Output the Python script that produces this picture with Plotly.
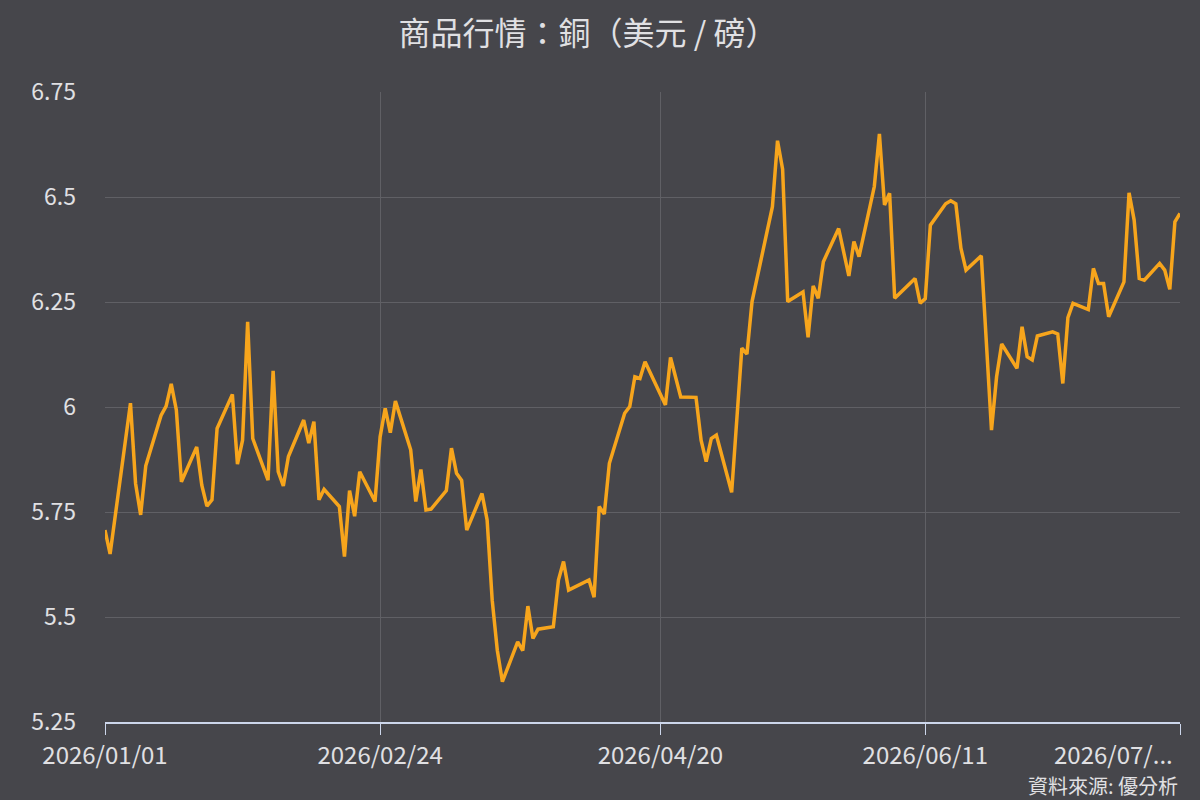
import plotly.graph_objects as go

dates = [
    "2026-01-01", "2026-01-02", "2026-01-06", "2026-01-07", "2026-01-08", "2026-01-09",
    "2026-01-12", "2026-01-13", "2026-01-14", "2026-01-15", "2026-01-16",
    "2026-01-19", "2026-01-20", "2026-01-21", "2026-01-22", "2026-01-23",
    "2026-01-26", "2026-01-27", "2026-01-28", "2026-01-29", "2026-01-30",
    "2026-02-02", "2026-02-03", "2026-02-04", "2026-02-05", "2026-02-06",
    "2026-02-09", "2026-02-10", "2026-02-11", "2026-02-12", "2026-02-13",
    "2026-02-16", "2026-02-17", "2026-02-18", "2026-02-19", "2026-02-20",
    "2026-02-23", "2026-02-24", "2026-02-25", "2026-02-26", "2026-02-27",
    "2026-03-02", "2026-03-03", "2026-03-04", "2026-03-05", "2026-03-06",
    "2026-03-09", "2026-03-10", "2026-03-11", "2026-03-12", "2026-03-13",
    "2026-03-16", "2026-03-17", "2026-03-18", "2026-03-19", "2026-03-20",
    "2026-03-23", "2026-03-24", "2026-03-25", "2026-03-26", "2026-03-27",
    "2026-03-30", "2026-03-31", "2026-04-01", "2026-04-02",
    "2026-04-06", "2026-04-07", "2026-04-08", "2026-04-09", "2026-04-10",
    "2026-04-13", "2026-04-14", "2026-04-15", "2026-04-16", "2026-04-17",
    "2026-04-20", "2026-04-21", "2026-04-22", "2026-04-24",
    "2026-04-27", "2026-04-28", "2026-04-29", "2026-04-30", "2026-05-01",
    "2026-05-04", "2026-05-06", "2026-05-07", "2026-05-08",
    "2026-05-12", "2026-05-13", "2026-05-14", "2026-05-15",
    "2026-05-18", "2026-05-19", "2026-05-20", "2026-05-21", "2026-05-22",
    "2026-05-25", "2026-05-27", "2026-05-28", "2026-05-29",
    "2026-06-01", "2026-06-02", "2026-06-03", "2026-06-04", "2026-06-05",
    "2026-06-09", "2026-06-10", "2026-06-11", "2026-06-12",
    "2026-06-15", "2026-06-16", "2026-06-17", "2026-06-18", "2026-06-19",
    "2026-06-22", "2026-06-24", "2026-06-25", "2026-06-26",
    "2026-06-29", "2026-06-30", "2026-07-01", "2026-07-02", "2026-07-03",
    "2026-07-06", "2026-07-07", "2026-07-08", "2026-07-09", "2026-07-10",
    "2026-07-13", "2026-07-14", "2026-07-15", "2026-07-16", "2026-07-17",
    "2026-07-20", "2026-07-21", "2026-07-22", "2026-07-23", "2026-07-24",
    "2026-07-27", "2026-07-28", "2026-07-29", "2026-07-30", "2026-07-31",
]

copper_price = [
    5.707, 5.650, 6.009, 5.818, 5.743, 5.860,
    5.980, 6.002, 6.055, 5.993, 5.822,
    5.905, 5.814, 5.764, 5.779, 5.949,
    6.030, 5.864, 5.921, 6.203, 5.925,
    5.826, 6.086, 5.846, 5.812, 5.882,
    5.969, 5.914, 5.965, 5.779, 5.804,
    5.763, 5.644, 5.801, 5.740, 5.846,
    5.775, 5.929, 5.997, 5.939, 6.014,
    5.898, 5.775, 5.851, 5.755, 5.757,
    5.801, 5.902, 5.842, 5.825, 5.707,
    5.794, 5.731, 5.540, 5.421, 5.346,
    5.441, 5.420, 5.526, 5.449, 5.471,
    5.477, 5.588, 5.632, 5.564,
    5.588, 5.547, 5.763, 5.745, 5.866,
    5.985, 6.001, 6.072, 6.068, 6.108,
    6.030, 6.005, 6.118, 6.024,
    6.023, 5.921, 5.870, 5.925, 5.933,
    5.797, 6.140, 6.126, 6.251,
    6.477, 6.634, 6.566, 6.251,
    6.274, 6.166, 6.288, 6.259, 6.346,
    6.425, 6.312, 6.394, 6.358,
    6.525, 6.650, 6.481, 6.509, 6.259,
    6.306, 6.247, 6.258, 6.433,
    6.484, 6.491, 6.484, 6.378, 6.326,
    6.360, 5.945, 6.072, 6.150,
    6.092, 6.191, 6.120, 6.112, 6.169,
    6.179, 6.174, 6.056, 6.213, 6.247,
    6.232, 6.330, 6.294, 6.294, 6.215,
    6.298, 6.510, 6.445, 6.306, 6.302,
    6.342, 6.326, 6.280, 6.441, 6.461,
]

x_tick_vals = ["2026-01-01", "2026-02-24", "2026-04-20", "2026-06-11", "2026-07-31"]
x_tick_text = ["2026/01/01", "2026/02/24", "2026/04/20", "2026/06/11", ""]
last_tick_label = "2026/07/..."
y_tick_vals = [5.25, 5.5, 5.75, 6.0, 6.25, 6.5, 6.75]
y_tick_text = ["5.25", "5.5", "5.75", "6", "6.25", "6.5", "6.75"]

title_text = "商品行情：銅（美元 / 磅）"
source_text = "資料來源: 優分析"

BG = "#46464b"
GRID = "#606065"
AXIS = "#ccd6eb"
TEXT = "#e0e0e3"
LINE = "#f7a51c"
FONT = "Noto Sans CJK TC, Noto Sans, sans-serif"

fig = go.Figure()
fig.add_trace(go.Scatter(
    x=dates, y=copper_price, mode="lines",
    line=dict(color=LINE, width=3.5),
    showlegend=False, hoverinfo="x+y",
))

fig.update_layout(
    width=1200, height=800,
    paper_bgcolor=BG, plot_bgcolor=BG,
    margin=dict(l=105, r=20, t=92, b=78),
    font=dict(family=FONT, color=TEXT),
    title=dict(
        text=title_text, x=0.49, xanchor="center",
        y=1 - 34 / 800, yanchor="middle", yref="container",
        font=dict(size=32, color=TEXT, family=FONT),
    ),
    xaxis=dict(
        type="date", range=["2026-01-01", "2026-07-31"],
        tickmode="array", tickvals=x_tick_vals, ticktext=x_tick_text,
        showgrid=True, gridcolor=GRID, gridwidth=1,
        ticks="outside", ticklen=11, tickcolor=AXIS, tickwidth=1,
        showline=True, linecolor=AXIS, linewidth=2,
        tickfont=dict(size=24, color=TEXT, family=FONT),
        zeroline=False, fixedrange=True,
    ),
    yaxis=dict(
        range=[5.25, 6.75],
        tickmode="array", tickvals=y_tick_vals, ticktext=y_tick_text,
        showgrid=True, gridcolor=GRID, gridwidth=1,
        ticks="", showline=False, zeroline=False,
        tickfont=dict(size=23, color=TEXT, family=FONT),
        ticklabelstandoff=28, fixedrange=True,
    ),
    annotations=[
        dict(
            text=last_tick_label, xref="paper", yref="paper",
            x=1, y=0, xanchor="right", yanchor="middle",
            yshift=-31, xshift=-5, showarrow=False,
            font=dict(size=24, color=TEXT, family=FONT),
        ),
        dict(
            text=source_text, xref="paper", yref="paper",
            x=1, y=0, xanchor="right", yanchor="middle",
            yshift=-63, showarrow=False,
            font=dict(size=20, color=TEXT, family=FONT),
        ),
    ],
)

fig.write_html("out.html")
